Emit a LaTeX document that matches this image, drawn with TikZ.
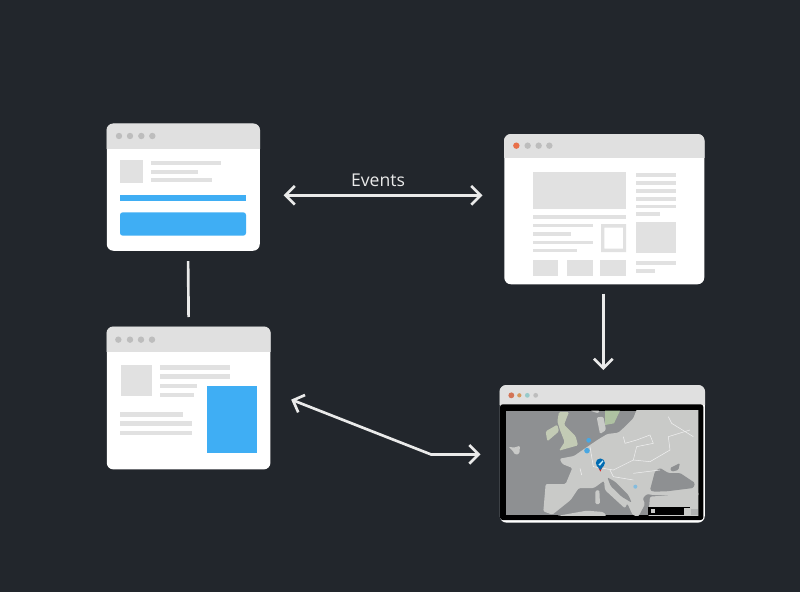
\documentclass[tikz,border=0pt]{standalone}
\usepackage{fontspec}
\setmainfont{Open Sans}
\usetikzlibrary{arrows.meta}
\definecolor{bgc}{HTML}{22262C}
\definecolor{barc}{HTML}{E0E0E0}
\definecolor{blockc}{HTML}{E1E1E1}
\definecolor{dotc}{HTML}{BDBDBD}
\definecolor{bluec}{HTML}{3FAEF4}
\definecolor{redc}{HTML}{E8704A}
\definecolor{seac}{HTML}{8E9092}
\definecolor{landc}{HTML}{C9CAC8}
\definecolor{greenc}{HTML}{C3CBB5}
\definecolor{sgreenc}{HTML}{AFC2A2}
\definecolor{linec}{HTML}{EAEAEA}
\tikzset{
  window/.style={fill=white,rounded corners=5pt,inner sep=0pt,draw=none},
  block/.style={fill=blockc,draw=none},
  blue/.style={fill=bluec,draw=none},
  conn/.style={draw=linec,line width=2pt},
  tips/.style={conn,{Straight Barb[length=7pt,width=14pt,line width=2pt]}-{Straight Barb[length=7pt,width=14pt,line width=2pt]}},
  tip/.style={conn,-{Straight Barb[length=7pt,width=14pt,line width=2pt]}},
  land/.style={fill=landc,rounded corners=1pt},
  sea/.style={fill=seac,rounded corners=1pt},
  green/.style={fill=greenc,rounded corners=1pt},
  border/.style={draw=white!88!gray,line width=.4pt},
}
\newcommand{\tbar}[2]{\begin{scope}
  \clip (#1.north west) rectangle ([yshift=#2]#1.north east);
  \fill[barc,rounded corners=5pt] (#1.north west) rectangle (#1.south east);
\end{scope}}
\begin{document}
\begin{tikzpicture}[x=0.75pt,y=-0.75pt]
\useasboundingbox (0,0) rectangle (800,592);
\fill[bgc] (0,0) rectangle (800,592);
% windows
\node[window,anchor=north west,minimum width=114.75pt,minimum height=95.25pt] (w1) at (106.5,123.5) {};
\node[window,anchor=north west,minimum width=150pt,minimum height=112.5pt] (w2) at (504,134) {};
\node[window,anchor=north west,minimum width=122.75pt,minimum height=107pt] (w3) at (106.5,326.5) {};
\node[window,anchor=north west,minimum width=153.75pt,minimum height=103pt] (w4) at (499.5,385) {};
\tbar{w1}{-18.75pt}\tbar{w2}{-17.5pt}\tbar{w3}{-19pt}\tbar{w4}{-14.25pt}
% window 1
\begin{scope}[shift={(90,110)},x=0.25pt,y=-0.25pt]
\foreach \x in {87,120,154,187} \fill[dotc] (\x,78) circle (2.4pt);
\fill[block] (90,150) rectangle (160,218);
\fill[block] (182,152) rectangle (393,165);
\fill[block] (182,180) rectangle (324,192);
\fill[block] (182,203) rectangle (366,216);
\fill[blue] (90,255) rectangle (468,273);
\fill[blue,rounded corners=2pt] (90,307) rectangle (468,377);
\end{scope}
% window 2
\begin{scope}[shift={(490,125)},x=0.25pt,y=-0.25pt]
\fill[redc] (79,62) circle (2.4pt);
\foreach \x in {113,146,178} \fill[dotc] (\x,62) circle (2.4pt);
\fill[block] (130,140) rectangle (408,253);
\fill[block] (130,271) rectangle (408,283);
\fill[block] (130,296) rectangle (310,307);
\fill[block] (130,321) rectangle (243,333);
\fill[block] (130,348) rectangle (310,358);
\fill[block] (130,371) rectangle (260,382);
\fill[block,even odd rule] (333,297) rectangle (408,381) (343,308) rectangle (399,371);
\fill[block] (129,405) rectangle (205,452);
\fill[block] (230,405) rectangle (309,452);
\fill[block] (331,405) rectangle (408,452);
\foreach \a/\b in {143/155,169/180,192/204,216/228,239/250} \fill[block] (438,\a) rectangle (558,\b);
\fill[block] (438,260) rectangle (510,272);
\fill[block] (438,291) rectangle (558,384);
\fill[block] (438,408) rectangle (557,420);
\fill[block] (438,432) rectangle (494,443);
\end{scope}
% window 3
\begin{scope}[shift={(90,320)},x=0.25pt,y=-0.25pt]
\foreach \x in {85,120,153,186} \fill[dotc] (\x,59) circle (2.4pt);
\fill[block] (92,134) rectangle (185,227);
\fill[block] (210,135) rectangle (419,149);
\fill[block] (210,162) rectangle (421,176);
\fill[block] (210,192) rectangle (321,204);
\fill[block] (210,219) rectangle (312,232);
\fill[blue] (350,197) rectangle (500,400);
\fill[block] (91,277) rectangle (278,290);
\fill[block] (91,304) rectangle (305,318);
\fill[block] (91,333) rectangle (305,345);
\end{scope}
% window 4
\begin{scope}[shift={(490,380)},x=0.25pt,y=-0.25pt]
\fill[redc!80!gray] (64,46) circle (2.2pt);
\fill[orange!60!gray!80] (88,46) circle (1.6pt);
\fill[dotc!80!cyan] (112,46) circle (1.8pt);
\fill[dotc] (137,46) circle (1.8pt);
\fill[black,rounded corners=2pt] (30,73) rectangle (640,420);
\begin{scope}
\clip (47,92) rectangle (625,405);
\fill[seac] (47,92) rectangle (625,405);
% mainland
\path[land] (630,88) -- (440,88) -- (430,115) -- (405,140) -- (385,158) -- (352,162) -- (325,178) -- (300,195) -- (285,205) -- (252,228) -- (209,236) -- (217,252) -- (247,264) -- (232,300) -- (227,312) -- (167,312) -- (160,394) -- (187,404) -- (242,360) -- (262,330) -- (267,324) -- (312,324) -- (342,302) -- (345,330) -- (372,355) -- (405,385) -- (412,370) -- (428,405) -- (445,410) -- (465,372) -- (458,355) -- (470,342) -- (490,345) -- (630,345) -- cycle;
% Black sea and Azov
\path[sea] (480,330) -- (495,274) -- (510,264) -- (535,279) -- (570,279) -- (615,309) -- (610,324) -- (530,334) -- (490,335) -- cycle;
\path[sea] (540,264) -- (570,249) -- (565,270) -- (545,275) -- cycle;
% Adriatic
\path[sea] (352,292) -- (375,305) -- (415,345) -- (425,368) -- (395,350) -- (362,318) -- cycle;
% Corsica, Sardinia, Sicily, North Africa
\path[land] (316,332) -- (328,330) -- (330,372) -- (316,372) -- cycle;
\path[land] (200,408) -- (290,392) -- (340,396) -- (350,408) -- cycle;
% Turkey
\path[land] (480,350) -- (630,338) -- (630,410) -- (475,410) -- (478,372) -- cycle;
% Britain
\path[green] (207,96) -- (237,96) -- (222,134) -- (257,169) -- (264,196) -- (207,212) -- (224,186) -- (210,150) -- (202,124) -- cycle;
% Ireland
\path[green] (167,154) -- (202,134) -- (207,154) -- (172,184) -- cycle;
% Iceland
\path[land] (55,200) -- (72,203) -- (90,197) -- (88,222) -- (75,224) -- (68,212) -- cycle;
% Scandinavia
\path[fill=sgreenc] (345,92) -- (390,92) -- (372,130) -- (345,135) -- cycle;
\path[land] (320,112) -- (340,110) -- (348,150) -- (330,162) -- cycle;
\path[land] (300,92) -- (330,92) -- (325,100) -- cycle;
% borders
\path[border] (400,170) -- (405,190) -- (440,180) -- (480,165) -- (490,190) -- (440,200) -- (430,240) -- (480,245) -- (540,210) -- (535,170) -- (600,150);
\path[border] (300,200) -- (310,260) -- (370,270) -- (430,240);
\path[border] (430,280) -- (510,270) (535,110) -- (545,130) -- (610,170);
\path[border] (360,270) -- (370,290) -- (430,300) (270,265) -- (275,285);
% small blue spots
\fill[bluec!85!gray] (296,181) circle (1.8pt) (291,212) circle (2.1pt);
\fill[bluec!50!landc] (436,320) circle (1.5pt);
% pin
\fill[red!70!gray] (325,262) -- (337,262) -- (331,275) -- cycle;
\fill[blue!40!cyan!70!black] (331,249) circle (3.4pt);
\fill[blue!40!cyan!70!black] (320,256) -- (342,256) -- (331,270) -- cycle;
\fill[white!80!cyan] (325,254) -- (338,241) -- (340,244) -- (330,257) -- cycle;
\end{scope}
% legend
\fill[black] (475,380) rectangle (600,405);
\fill[landc] (484,386) rectangle (494,400);
\fill[landc] (582,384) rectangle (600,404);
\fill[landc!60!seac] (604,388) rectangle (624,404);
\end{scope}
% connectors
\node[text=linec,font=\fontsize{13.2pt}{15pt}\selectfont,inner sep=0pt] (lbl) at (378,180) {Events};
\draw[tips] ([shift={(23.5,8)}]w1.east) -- ([shift={(-21.5,-14)}]w2.west);
\draw[conn] ([shift={(4.83,10)}]w1.south) -- ([shift={(0,-9.5)}]w3.north);
\draw[tip] ([shift={(-1,9)}]w2.south) -- ([shift={(1,-15)}]w4.north);
\draw[tips] ([shift={(20.5,1.5)}]w3.east) -- ([shift={(-68.5,0.5)}]w4.west) -- ([shift={(-19,0.5)}]w4.west);
\end{tikzpicture}
\end{document}
